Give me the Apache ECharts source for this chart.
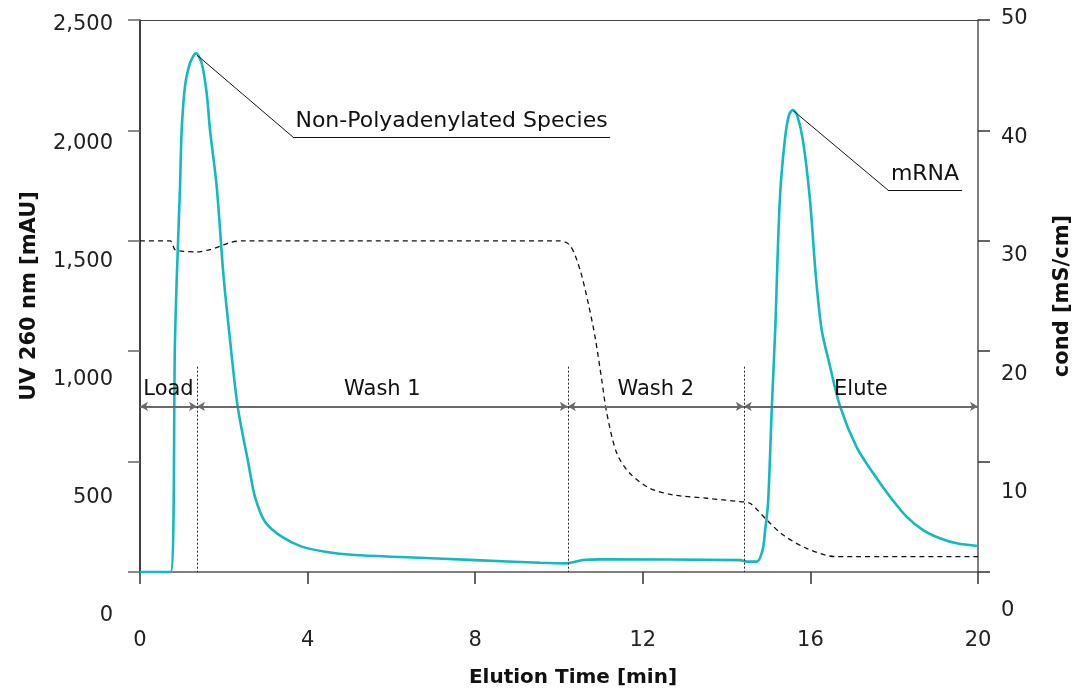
<!DOCTYPE html>
<html>
<head>
<meta charset="utf-8">
<script src="https://cdn.jsdelivr.net/npm/echarts@6/dist/echarts.min.js"></script>
<style>
  html, body { margin: 0; padding: 0; background: #fff; }
  #chart { width: 1082px; height: 694px; }
</style>
</head>
<body>
<div id="chart"></div>
<script>
// elution time [min] / UV 260 nm [mAU]
const uvTime = [0, 0.73, 0.835, 0.876, 0.955, 0.995, 1.074, 1.193, 1.337, 1.473, 1.592, 1.671, 1.831, 1.988, 2.124, 2.332, 2.585, 2.745, 2.983, 3.382, 3.859, 4.415, 5.131, 6.205, 7.995, 9.547, 10.18, 10.58, 10.98, 14.32, 14.48, 14.72, 14.86, 14.92, 14.99, 15.08, 15.16, 15.27, 15.39, 15.49, 15.58, 15.68, 15.82, 15.99, 16.13, 16.27, 16.45, 16.71, 17.10, 17.50, 17.90, 18.30, 18.69, 19.09, 19.49, 20];
const uvValue = [0, 0, 1051, 1322, 1745, 2002, 2198, 2304, 2349, 2304, 2168, 2002, 1745, 1353, 1096, 749, 494, 340, 228, 160, 115, 92, 77, 68, 54, 42, 39, 54, 57, 54, 47, 47, 100, 190, 313, 749, 1096, 1685, 1957, 2070, 2092, 2070, 1957, 1685, 1340, 1096, 946, 749, 567, 447, 341, 250, 190, 153, 130, 118];

// conductivity [mS/cm]
const condTime = [0, 0.716, 0.835, 1.033, 1.353, 1.671, 1.909, 2.148, 2.465, 9.983, 10.26, 10.50, 10.70, 10.86, 11.02, 11.14, 11.38, 11.69, 12.17, 12.73, 13.53, 14.32, 14.56, 14.96, 15.35, 15.91, 16.59, 20];
const condValue = [30.0, 30.0, 29.2, 29.05, 29.0, 29.2, 29.5, 29.85, 30.0, 30.0, 29.6, 27.4, 24.3, 21.3, 17.4, 14.4, 10.75, 8.94, 7.58, 6.98, 6.68, 6.37, 6.22, 4.71, 3.35, 2.14, 1.4, 1.4];

// method phases
const phaseNames = ['Load', 'Wash 1', 'Wash 2', 'Elute'];
const phaseBounds = [0, 1.36, 10.21, 14.41, 20];

// tick labels
const timeTicks = ['0', '4', '8', '12', '16', '20'];
const uvTicks = ['0', '500', '1,000', '1,500', '2,000', '2,500'];
const condTicks = ['0', '10', '20', '30', '40', '50'];

const FONT = 'DejaVu Sans';
const TEAL = '#12babe';

const chart = echarts.init(document.getElementById('chart'));

const uvData = uvTime.map((t, i) => [t, uvValue[i]]);
const condData = condTime.map((t, i) => [t, condValue[i]]);

// arrows between the phase boundaries
const arrowY = 750;
const phaseLines = phaseNames.map((name, i) => [
  { coord: [phaseBounds[i], arrowY], name: name },
  { coord: [phaseBounds[i + 1], arrowY] }
]);
const sepLines = phaseBounds.slice(1, 4).map(t => [
  { coord: [t, 930] },
  { coord: [t, 0] }
]);

const hidden = { show: false };

const option = {
  backgroundColor: '#fff',
  animation: false,
  textStyle: { fontFamily: FONT },
  grid: [
    { left: 140, right: 104, top: 20, bottom: 122 },
    // label positions in the source sit on a slightly different span than the ticks
    { left: 140, right: 104, top: 25, bottom: 78 },
    { left: 140, right: 104, top: 19, bottom: 83 }
  ],
  xAxis: [
    {
      type: 'value', gridIndex: 0, min: 0, max: 20, interval: 4,
      name: 'Elution Time [min]', nameLocation: 'middle', nameGap: 96,
      nameTextStyle: { fontFamily: FONT, fontSize: 20, fontWeight: 'bold', color: '#111', padding: [0, 0, 0, 28] },
      axisLine: { show: true, onZero: false, lineStyle: { color: '#555', width: 1.5 } },
      axisTick: { show: true, length: 12, lineStyle: { color: '#333', width: 1.5 } },
      axisLabel: {
        margin: 58, fontFamily: FONT, fontSize: 21, color: '#222',
        formatter: v => timeTicks[Math.round(v / 4)]
      },
      splitLine: hidden
    },
    {
      type: 'value', gridIndex: 0, min: 0, max: 20, position: 'top',
      axisLine: { show: true, onZero: false, lineStyle: { color: '#444', width: 1 } },
      axisTick: hidden, axisLabel: hidden, splitLine: hidden
    },
    { type: 'value', gridIndex: 1, min: 0, max: 20, show: false },
    { type: 'value', gridIndex: 2, min: 0, max: 20, show: false }
  ],
  yAxis: [
    {
      type: 'value', gridIndex: 0, min: 0, max: 2500, interval: 500,
      name: 'UV 260 nm [mAU]', nameLocation: 'middle', nameGap: 100, nameRotate: 90,
      nameTextStyle: { fontFamily: FONT, fontSize: 21, fontWeight: 'bold', color: '#111' },
      axisLine: { show: true, onZero: false, lineStyle: { color: '#000', width: 1.5 } },
      axisTick: { show: true, length: 12, lineStyle: { color: '#666', width: 1.5 } },
      axisLabel: hidden, splitLine: hidden
    },
    {
      type: 'value', gridIndex: 0, min: 0, max: 50, interval: 10, position: 'right',
      name: 'cond [mS/cm]', nameLocation: 'middle', nameGap: 74, nameRotate: 90,
      nameTextStyle: { fontFamily: FONT, fontSize: 21, fontWeight: 'bold', color: '#111' },
      axisLine: { show: true, onZero: false, lineStyle: { color: '#555', width: 1.5 } },
      axisTick: { show: true, length: 12, lineStyle: { color: '#333', width: 1.5 } },
      axisLabel: hidden, splitLine: hidden
    },
    {
      type: 'value', gridIndex: 1, min: 0, max: 2500, interval: 500,
      axisLine: hidden, axisTick: hidden, splitLine: hidden,
      axisLabel: {
        margin: 27, fontFamily: FONT, fontSize: 21, color: '#222',
        formatter: v => uvTicks[Math.round(v / 500)]
      }
    },
    {
      type: 'value', gridIndex: 2, min: 0, max: 50, interval: 10, position: 'right',
      axisLine: hidden, axisTick: hidden, splitLine: hidden,
      axisLabel: {
        margin: 23, fontFamily: FONT, fontSize: 21, color: '#222',
        formatter: v => condTicks[Math.round(v / 10)]
      }
    }
  ],
  series: [
    {
      name: 'cond', type: 'line', xAxisIndex: 0, yAxisIndex: 1,
      data: condData, showSymbol: false, smooth: 0.3,
      lineStyle: { color: '#111', width: 1.3, type: [5, 4] },
      z: 3
    },
    {
      name: 'UV', type: 'line', xAxisIndex: 0, yAxisIndex: 0,
      data: uvData, showSymbol: false, smooth: 0.3,
      lineStyle: { color: TEAL, width: 2.6 },
      z: 4,
      markLine: {
        silent: true, symbol: 'none', animation: false,
        lineStyle: { color: '#111', width: 1, type: 'solid' },
        label: { show: false },
        data: [
          [{ coord: [1.36, 2341] }, { coord: [3.65, 1970] }],
          [{ coord: [3.65, 1970], label: { show: true, formatter: 'Non-Polyadenylated Species', position: 'insideMiddleTop', distance: 5, fontFamily: FONT, fontSize: 22, color: '#111' } }, { coord: [11.22, 1970] }],
          [{ coord: [15.6, 2088] }, { coord: [17.85, 1730] }],
          [{ coord: [17.85, 1730], label: { show: true, formatter: 'mRNA', position: 'insideMiddleTop', distance: 5, fontFamily: FONT, fontSize: 22, color: '#111' } }, { coord: [19.62, 1730] }]
        ]
      }
    },
    {
      name: 'phases', type: 'line', xAxisIndex: 0, yAxisIndex: 0, data: [],
      markLine: {
        silent: true, animation: false,
        symbol: ['arrow', 'arrow'], symbolSize: [7, 8],
        lineStyle: { color: '#6a6a6a', width: 2, type: 'solid' },
        label: {
          show: true, position: 'insideMiddleTop', distance: 6,
          formatter: p => p.name, fontFamily: FONT, fontSize: 21, color: '#111'
        },
        data: phaseLines
      }
    },
    {
      name: 'separators', type: 'line', xAxisIndex: 0, yAxisIndex: 0, data: [],
      markLine: {
        silent: true, animation: false, symbol: 'none',
        lineStyle: { color: '#222', width: 1, type: [2, 2] },
        label: { show: false },
        data: sepLines
      }
    }
  ]
};

chart.setOption(option);
</script>
</body>
</html>
